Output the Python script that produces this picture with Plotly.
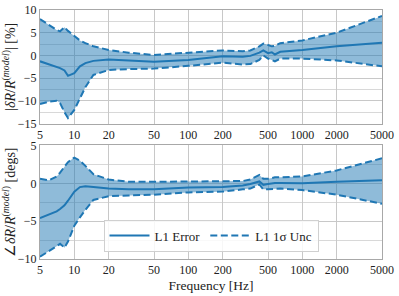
import plotly.graph_objects as go
from plotly.subplots import make_subplots

freq = [5, 6, 7, 7.5, 8.2, 8.8, 10, 11.2, 12.5, 14.7, 20, 30, 50, 100, 200,
        300, 350, 420, 455, 500, 540, 575, 640, 1000, 2000, 5000]

mag_hi = [8.0, 6.6, 5.6, 5.3, 6.2, 5.4, 4.2, 3.3, 2.7, 2.0, 1.2, 0.6, 0.1, 0.6, 1.1,
          0.9, 1.1, 2.0, 2.6, 2.3, 2.0, 2.1, 2.7, 3.3, 5.0, 8.7]
mag_err = [-1.3, -1.9, -2.5, -2.8, -3.3, -4.5, -3.9, -2.4, -1.7, -1.2, -0.9, -1.1, -1.4, -1.0, -0.2,
           -0.3, -0.1, 0.6, 1.1, 0.5, 0.7, 0.2, 0.8, 1.2, 2.0, 2.8]
mag_lo = [-10.7, -10.2, -10.0, -10.5, -12.5, -13.8, -12.0, -9.5, -7.0, -4.3, -3.2, -3.0, -2.9, -2.3, -1.6,
          -2.0, -1.9, -1.0, 0.0, -0.7, -1.0, -1.3, -0.7, -0.7, -1.1, -2.4]

ph_hi = [0.6, 0.4, 0.9, 1.4, 2.2, 2.8, 3.4, 3.0, 2.3, 1.2, 0.5, 0.2, 0.2, 0.2, 0.25,
         0.3, 0.5, 1.1, 0.6, 0.6, 0.7, 0.8, 0.8, 0.9, 1.7, 3.3]
ph_err = [-4.6, -4.1, -3.7, -3.4, -2.9, -2.3, -1.1, -0.5, -0.4, -0.5, -0.7, -0.8, -0.8, -0.55, -0.5,
          -0.3, -0.1, 0.25, -0.2, -0.1, 0.0, 0.05, 0.05, 0.0, 0.2, 0.4]
ph_lo = [-9.7, -9.0, -8.3, -8.0, -8.5, -7.7, -5.6, -4.5, -3.5, -2.2, -1.7, -1.6, -1.5, -1.2, -1.1,
         -0.8, -0.7, -0.15, -0.8, -0.8, -0.75, -0.7, -0.7, -0.9, -1.5, -2.7]

x_ticks = [5, 10, 20, 50, 100, 200, 500, 1000, 2000, 5000]

BLUE = "#1f77b4"
FILL = "rgba(31,119,180,0.5)"
DASH = "7px,3.5px"
FONT = "Liberation Serif"

fig = make_subplots(rows=2, cols=1, vertical_spacing=0.088)

for row, hi, err, lo in [(1, mag_hi, mag_err, mag_lo), (2, ph_hi, ph_err, ph_lo)]:
    show = row == 2
    fig.add_trace(go.Scatter(x=freq, y=hi, mode="lines", name="L1 1\u03c3 Unc",
                             line=dict(color=BLUE, width=2, dash=DASH),
                             showlegend=show, legendrank=2), row=row, col=1)
    fig.add_trace(go.Scatter(x=freq, y=lo, mode="lines", fill="tonexty", fillcolor=FILL,
                             line=dict(color=BLUE, width=2, dash=DASH),
                             showlegend=False), row=row, col=1)
    fig.add_trace(go.Scatter(x=freq, y=err, mode="lines", name="L1 Error",
                             line=dict(color=BLUE, width=2),
                             showlegend=show, legendrank=1), row=row, col=1)

xcommon = dict(type="log", range=[0.69897, 3.69897], tickmode="array", tickvals=x_ticks,
               ticktext=[str(v) for v in x_ticks], showgrid=True, gridcolor="#c8c8c8",
               gridwidth=1, showline=True, linecolor="#a8a8a8", mirror=True, ticks="",
               tickfont=dict(size=12, color="#222"), zeroline=False, automargin=False)
fig.update_xaxes(**xcommon)
fig.update_xaxes(title_text="Frequency [Hz]", title_font=dict(size=13.5, color="#222"),
                 title_standoff=4, row=2, col=1)

ycommon = dict(showgrid=True, gridcolor="#c8c8c8", gridwidth=1, showline=True,
               linecolor="#a8a8a8", mirror=True, ticks="", zeroline=False,
               tickfont=dict(size=12, color="#222"), dtick=5, automargin=False,
               minor=dict(dtick=2.5, showgrid=True, gridcolor="#d8d8d8"))
fig.update_yaxes(**ycommon)
fig.update_yaxes(range=[-15, 10], tick0=-15, row=1, col=1,
                 title_text="|<i>\u03b4R</i>/<i>R</i><sup>(<i>model</i>)</sup>| [%]",
                 title_font=dict(size=14, color="#222"), title_standoff=1)
fig.update_yaxes(range=[-10, 5], tick0=-10, row=2, col=1,
                 title_text="\u2220<i>\u03b4R</i>/<i>R</i><sup>(<i>model</i>)</sup> [degs]",
                 title_font=dict(size=14, color="#222"), title_standoff=1)

fig.update_layout(
    width=399, height=296,
    margin=dict(l=40, r=17, t=10, b=37),
    paper_bgcolor="white", plot_bgcolor="white",
    font=dict(family=FONT, size=12, color="#222"),
    legend=dict(orientation="h", x=0.5, y=0.03, xanchor="center", yanchor="bottom",
                bgcolor="rgba(255,255,255,0.85)", bordercolor="#d0d0d0", borderwidth=1,
                font=dict(size=13), traceorder="normal", itemwidth=40),
)

fig.write_html("out.html", config={"displayModeBar": False},
               post_script="document.body.style.margin='0';")
